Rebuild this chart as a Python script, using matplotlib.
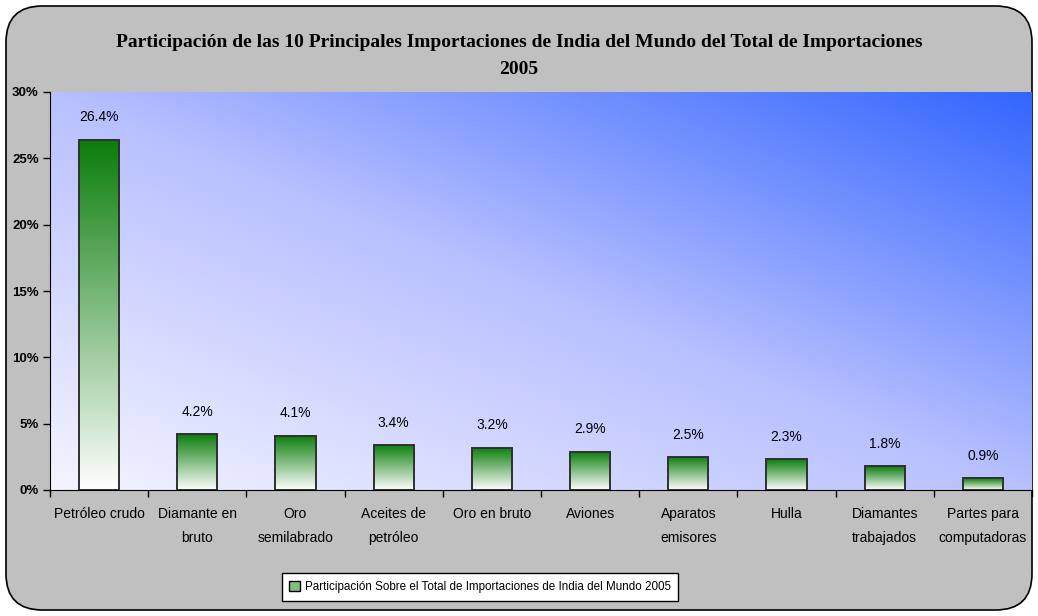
import numpy as np
import matplotlib
matplotlib.use('Agg')
import matplotlib.pyplot as plt
from matplotlib.patches import FancyBboxPatch, Rectangle
from matplotlib.colors import LinearSegmentedColormap
from matplotlib.ticker import FuncFormatter


categories = ['Petróleo crudo', 'Diamante en\nbruto', 'Oro\nsemilabrado', 'Aceites de\npetróleo',
              'Oro en bruto', 'Aviones', 'Aparatos\nemisores', 'Hulla', 'Diamantes\ntrabajados',
              'Partes para\ncomputadoras']
values = [26.4, 4.2, 4.1, 3.4, 3.2, 2.9, 2.5, 2.3, 1.8, 0.9]
y_ticks = [0, 5, 10, 15, 20, 25, 30]

title = ('Participación de las 10 Principales Importaciones de India del Mundo del Total de Importaciones\n'
         '2005')
series_name = 'Participación Sobre el Total de Importaciones de India del Mundo 2005'

sans = ['Liberation Sans Narrow', 'Liberation Sans', 'DejaVu Sans']
serif = ['Liberation Serif', 'DejaVu Serif']
plt.rcParams['font.family'] = sans

fig = plt.figure(figsize=(10.38, 6.16), dpi=100)
fig.patch.set_facecolor('white')

# grey rounded chart area
frame = FancyBboxPatch((6 / 1038, 6 / 616), 1026 / 1038, 604 / 616,
                       boxstyle='round,pad=0,rounding_size=0.035',
                       transform=fig.transFigure, facecolor='#c0c0c0',
                       edgecolor='black', lw=1.2, mutation_aspect=1038 / 616, zorder=-5)
fig.patches.append(frame)

ax = fig.add_axes([50 / 1038, 1 - 490 / 616, 982 / 1038, 398 / 616])
ax.set_facecolor('none')

# diagonal blue gradient for the plot area
xx, yy = np.meshgrid(np.linspace(0, 1, 300), np.linspace(0, 1, 200))
grad = (xx + yy) / 2
bg_cmap = LinearSegmentedColormap.from_list('bg', ['#f4f4ff', '#b8c0ff', '#3366ff'])
ax.imshow(grad, cmap=bg_cmap, extent=[0, 1, 0, 1], origin='lower',
          transform=ax.transAxes, aspect='auto', zorder=0, interpolation='bilinear')

# bars with vertical green gradient
bar_cmap = LinearSegmentedColormap.from_list('bar', ['#ffffff', '#0a7d0a'])
x = np.arange(len(values))
width = 0.41
bars = ax.bar(x, values, width=width, facecolor='none', edgecolor='#303030', lw=1.4, zorder=3)
vgrad = np.linspace(0, 1, 256).reshape(-1, 1)
for b in bars:
    x0, y0 = b.get_x(), b.get_y()
    w, h = b.get_width(), b.get_height()
    im = ax.imshow(vgrad, cmap=bar_cmap, extent=[x0, x0 + w, y0, y0 + h], origin='lower',
                   aspect='auto', zorder=2, interpolation='bilinear')
    im.set_clip_path(b)

for xi, v in zip(x, values):
    ax.annotate('%.1f%%' % v, (xi, v), xytext=(0, 11), textcoords='offset points',
                ha='center', va='bottom', fontsize=10, color='black')

ax.set_xlim(-0.5, len(values) - 0.5)
ax.set_ylim(0, 30)
ax.set_yticks(y_ticks)
ax.yaxis.set_major_formatter(FuncFormatter(lambda v, p: '%d%%' % v))
ax.set_xticks(x)
ax.set_xticklabels(categories, fontsize=10, linespacing=1.85)
ax.set_xticks(np.arange(len(values) + 1) - 0.5, minor=True)
ax.tick_params(axis='x', which='major', length=0, pad=12.5)
ax.tick_params(axis='x', which='minor', length=5, width=1, color='black')
ax.tick_params(axis='y', length=5, width=1, pad=3)
for lab in ax.get_yticklabels():
    lab.set_fontsize(9.5)
    lab.set_fontweight('bold')
ax.grid(False)
for side in ['top', 'right']:
    ax.spines[side].set_visible(False)
ax.spines['left'].set_color('black')
ax.spines['bottom'].set_color('black')
ax.spines['left'].set_zorder(5)
ax.spines['bottom'].set_zorder(5)

fig.text(0.5, 1 - 56 / 616, title, ha='center', va='center', fontsize=14,
         fontweight='bold', family=serif, linespacing=1.7)

# legend swatch
swatch = Rectangle((0, 0), 1, 1, facecolor='#7fbf7f', edgecolor='black', lw=1)
leg = fig.legend([swatch], [series_name], loc='center', bbox_to_anchor=(480 / 1038, 1 - 587 / 616),
                 fontsize=8.4, frameon=True, fancybox=False, edgecolor='black', framealpha=1,
                 handlelength=0.9, handleheight=0.9, handletextpad=0.4, borderpad=0.65)
leg.get_frame().set_linewidth(1)

fig.savefig('out.png', dpi=100, facecolor=fig.get_facecolor())
